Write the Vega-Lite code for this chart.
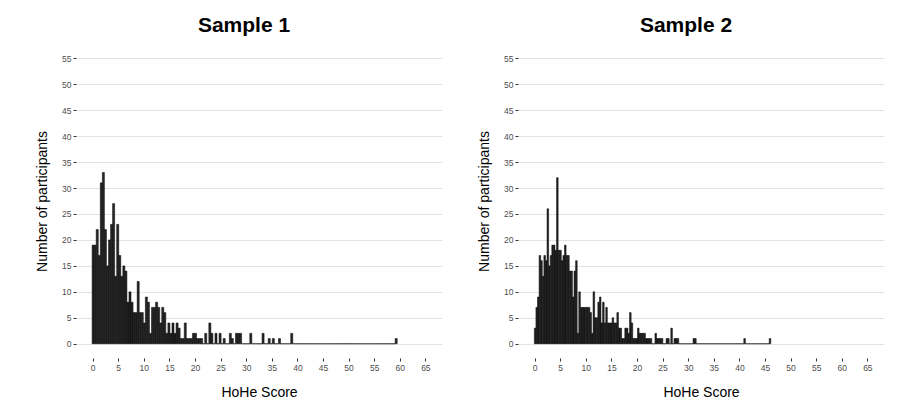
{
  "$schema": "https://vega.github.io/schema/vega-lite/v6.json",
  "padding": {"left": 35, "top": 15, "right": 5, "bottom": 5},
  "spacing": 35,
  "config": {
    "font": "Liberation Sans",
    "view": {"stroke": null},
    "axis": {"domain": false, "labelFontSize": 8.5, "labelColor": "#4d4d4d", "tickColor": "#333333", "tickSize": 3, "titleFontSize": 14, "titleFontWeight": "normal", "titleColor": "#000000", "gridColor": "#e3e3e3", "labelPadding": 2},
    "axisX": {"grid": false, "titlePadding": 14},
    "axisY": {"titlePadding": 12},
    "title": {"fontSize": 21, "fontWeight": "bold", "anchor": "middle", "frame": "group", "dx": -15, "offset": 8, "color": "#000000"},
    "bar": {"binSpacing": 0}
  },
  "hconcat": [
    {
      "title": "Sample 1",
      "width": 366,
      "height": 314,
      "data": {"values": [
        {"start": -0.2, "count": 19}, {"start": 0.2, "count": 19}, {"start": 0.6, "count": 22}, {"start": 1.0, "count": 17},
        {"start": 1.4, "count": 31}, {"start": 1.8, "count": 33}, {"start": 2.2, "count": 22}, {"start": 2.6, "count": 15},
        {"start": 3.0, "count": 20}, {"start": 3.4, "count": 23}, {"start": 3.8, "count": 27}, {"start": 4.2, "count": 13},
        {"start": 4.6, "count": 23}, {"start": 5.0, "count": 17}, {"start": 5.4, "count": 13}, {"start": 5.8, "count": 15},
        {"start": 6.2, "count": 14}, {"start": 6.6, "count": 8}, {"start": 7.0, "count": 10}, {"start": 7.4, "count": 8},
        {"start": 7.8, "count": 6}, {"start": 8.2, "count": 6}, {"start": 8.6, "count": 12}, {"start": 9.0, "count": 6},
        {"start": 9.4, "count": 6}, {"start": 9.8, "count": 4}, {"start": 10.2, "count": 9}, {"start": 10.6, "count": 8},
        {"start": 11.0, "count": 2}, {"start": 11.4, "count": 7}, {"start": 11.8, "count": 7}, {"start": 12.2, "count": 8},
        {"start": 12.6, "count": 7}, {"start": 13.0, "count": 4}, {"start": 13.4, "count": 7}, {"start": 13.8, "count": 6},
        {"start": 14.2, "count": 2}, {"start": 14.6, "count": 4}, {"start": 15.0, "count": 2}, {"start": 15.4, "count": 4},
        {"start": 15.8, "count": 2}, {"start": 16.2, "count": 4}, {"start": 16.6, "count": 3}, {"start": 17.0, "count": 1},
        {"start": 17.4, "count": 1}, {"start": 17.8, "count": 4}, {"start": 18.2, "count": 1}, {"start": 18.6, "count": 1},
        {"start": 19.0, "count": 1}, {"start": 19.4, "count": 2}, {"start": 19.8, "count": 2}, {"start": 20.2, "count": 1},
        {"start": 20.6, "count": 1}, {"start": 21.0, "count": 1}, {"start": 21.4, "count": 0}, {"start": 21.8, "count": 2},
        {"start": 22.2, "count": 0}, {"start": 22.6, "count": 4}, {"start": 23.0, "count": 2}, {"start": 23.4, "count": 0},
        {"start": 23.8, "count": 2}, {"start": 24.2, "count": 0}, {"start": 24.6, "count": 2}, {"start": 25.0, "count": 0},
        {"start": 25.4, "count": 1}, {"start": 25.8, "count": 0}, {"start": 26.2, "count": 0}, {"start": 26.6, "count": 2},
        {"start": 27.0, "count": 1}, {"start": 27.4, "count": 0}, {"start": 27.8, "count": 2}, {"start": 28.2, "count": 2},
        {"start": 28.6, "count": 2}, {"start": 29.0, "count": 0}, {"start": 29.4, "count": 0}, {"start": 29.8, "count": 0},
        {"start": 30.2, "count": 0}, {"start": 30.6, "count": 2}, {"start": 31.0, "count": 0}, {"start": 31.4, "count": 0},
        {"start": 31.8, "count": 0}, {"start": 32.2, "count": 0}, {"start": 32.6, "count": 0}, {"start": 33.0, "count": 2},
        {"start": 33.4, "count": 0}, {"start": 33.8, "count": 0}, {"start": 34.2, "count": 1}, {"start": 34.6, "count": 0},
        {"start": 35.0, "count": 1}, {"start": 35.4, "count": 0}, {"start": 35.8, "count": 0}, {"start": 36.2, "count": 1},
        {"start": 36.6, "count": 0}, {"start": 37.0, "count": 0}, {"start": 37.4, "count": 0}, {"start": 37.8, "count": 0},
        {"start": 38.2, "count": 0}, {"start": 38.6, "count": 2}, {"start": 39.0, "count": 0}, {"start": 39.4, "count": 0},
        {"start": 39.8, "count": 0}, {"start": 40.2, "count": 0}, {"start": 40.6, "count": 0}, {"start": 41.0, "count": 0},
        {"start": 41.4, "count": 0}, {"start": 41.8, "count": 0}, {"start": 42.2, "count": 0}, {"start": 42.6, "count": 0},
        {"start": 43.0, "count": 0}, {"start": 43.4, "count": 0}, {"start": 43.8, "count": 0}, {"start": 44.2, "count": 0},
        {"start": 44.6, "count": 0}, {"start": 45.0, "count": 0}, {"start": 45.4, "count": 0}, {"start": 45.8, "count": 0},
        {"start": 46.2, "count": 0}, {"start": 46.6, "count": 0}, {"start": 47.0, "count": 0}, {"start": 47.4, "count": 0},
        {"start": 47.8, "count": 0}, {"start": 48.2, "count": 0}, {"start": 48.6, "count": 0}, {"start": 49.0, "count": 0},
        {"start": 49.4, "count": 0}, {"start": 49.8, "count": 0}, {"start": 50.2, "count": 0}, {"start": 50.6, "count": 0},
        {"start": 51.0, "count": 0}, {"start": 51.4, "count": 0}, {"start": 51.8, "count": 0}, {"start": 52.2, "count": 0},
        {"start": 52.6, "count": 0}, {"start": 53.0, "count": 0}, {"start": 53.4, "count": 0}, {"start": 53.8, "count": 0},
        {"start": 54.2, "count": 0}, {"start": 54.6, "count": 0}, {"start": 55.0, "count": 0}, {"start": 55.4, "count": 0},
        {"start": 55.8, "count": 0}, {"start": 56.2, "count": 0}, {"start": 56.6, "count": 0}, {"start": 57.0, "count": 0},
        {"start": 57.4, "count": 0}, {"start": 57.8, "count": 0}, {"start": 58.2, "count": 0}, {"start": 58.6, "count": 0},
        {"start": 59.0, "count": 1}
      ]},
      "mark": {"type": "bar", "fill": "#262626", "stroke": "#000000", "strokeWidth": 0.5},
      "encoding": {
        "x": {"field": "start", "type": "quantitative", "bin": {"binned": true, "step": 0.4},
              "scale": {"domain": [-3.25, 68.25], "nice": false, "zero": false},
              "axis": {"values": [0, 5, 10, 15, 20, 25, 30, 35, 40, 45, 50, 55, 60, 65], "format": "d", "title": "HoHe Score"}},
        "y": {"field": "count", "type": "quantitative",
              "scale": {"domain": [-2.75, 57.75], "nice": false, "zero": false},
              "axis": {"values": [0, 5, 10, 15, 20, 25, 30, 35, 40, 45, 50, 55], "title": "Number of participants"}}
      }
    },
    {
      "title": "Sample 2",
      "width": 366,
      "height": 314,
      "data": {"values": [
        {"start": -0.155, "count": 3}, {"start": 0.155, "count": 7}, {"start": 0.465, "count": 9}, {"start": 0.775, "count": 17},
        {"start": 1.085, "count": 16}, {"start": 1.395, "count": 13}, {"start": 1.705, "count": 17}, {"start": 2.015, "count": 16},
        {"start": 2.325, "count": 26}, {"start": 2.635, "count": 15}, {"start": 2.945, "count": 17}, {"start": 3.255, "count": 19},
        {"start": 3.565, "count": 19}, {"start": 3.875, "count": 18}, {"start": 4.185, "count": 32}, {"start": 4.495, "count": 18},
        {"start": 4.805, "count": 18}, {"start": 5.115, "count": 16}, {"start": 5.425, "count": 17}, {"start": 5.735, "count": 19},
        {"start": 6.045, "count": 17}, {"start": 6.355, "count": 17}, {"start": 6.665, "count": 14}, {"start": 6.975, "count": 14},
        {"start": 7.285, "count": 9}, {"start": 7.595, "count": 14}, {"start": 7.905, "count": 16}, {"start": 8.215, "count": 2},
        {"start": 8.525, "count": 10}, {"start": 8.835, "count": 7}, {"start": 9.145, "count": 7}, {"start": 9.455, "count": 7},
        {"start": 9.765, "count": 7}, {"start": 10.075, "count": 7}, {"start": 10.385, "count": 7}, {"start": 10.695, "count": 6},
        {"start": 11.005, "count": 2}, {"start": 11.315, "count": 10}, {"start": 11.625, "count": 5}, {"start": 11.935, "count": 5},
        {"start": 12.245, "count": 8}, {"start": 12.555, "count": 9}, {"start": 12.865, "count": 4}, {"start": 13.175, "count": 8},
        {"start": 13.485, "count": 4}, {"start": 13.795, "count": 7}, {"start": 14.105, "count": 4}, {"start": 14.415, "count": 4},
        {"start": 14.725, "count": 4}, {"start": 15.035, "count": 5}, {"start": 15.345, "count": 4}, {"start": 15.655, "count": 4},
        {"start": 15.965, "count": 6}, {"start": 16.275, "count": 3}, {"start": 16.585, "count": 3}, {"start": 16.895, "count": 1},
        {"start": 17.205, "count": 1}, {"start": 17.515, "count": 3}, {"start": 17.825, "count": 3}, {"start": 18.135, "count": 2},
        {"start": 18.445, "count": 6}, {"start": 18.755, "count": 4}, {"start": 19.065, "count": 1}, {"start": 19.375, "count": 1},
        {"start": 19.685, "count": 1}, {"start": 19.995, "count": 3}, {"start": 20.305, "count": 2}, {"start": 20.615, "count": 2},
        {"start": 20.925, "count": 2}, {"start": 21.235, "count": 2}, {"start": 21.545, "count": 1}, {"start": 21.855, "count": 1},
        {"start": 22.165, "count": 1}, {"start": 22.475, "count": 1}, {"start": 22.785, "count": 0}, {"start": 23.095, "count": 0},
        {"start": 23.405, "count": 2}, {"start": 23.715, "count": 1}, {"start": 24.025, "count": 1}, {"start": 24.335, "count": 1},
        {"start": 24.645, "count": 1}, {"start": 24.955, "count": 0}, {"start": 25.265, "count": 0}, {"start": 25.575, "count": 1},
        {"start": 25.885, "count": 1}, {"start": 26.195, "count": 0}, {"start": 26.505, "count": 3}, {"start": 26.815, "count": 0},
        {"start": 27.125, "count": 1}, {"start": 27.435, "count": 1}, {"start": 27.745, "count": 1}, {"start": 28.055, "count": 0},
        {"start": 28.365, "count": 0}, {"start": 28.675, "count": 0}, {"start": 28.985, "count": 0}, {"start": 29.295, "count": 0},
        {"start": 29.605, "count": 0}, {"start": 29.915, "count": 0}, {"start": 30.225, "count": 0}, {"start": 30.535, "count": 0},
        {"start": 30.845, "count": 1}, {"start": 31.155, "count": 1}, {"start": 31.465, "count": 0}, {"start": 31.775, "count": 0},
        {"start": 32.085, "count": 0}, {"start": 32.395, "count": 0}, {"start": 32.705, "count": 0}, {"start": 33.015, "count": 0},
        {"start": 33.325, "count": 0}, {"start": 33.635, "count": 0}, {"start": 33.945, "count": 0}, {"start": 34.255, "count": 0},
        {"start": 34.565, "count": 0}, {"start": 34.875, "count": 0}, {"start": 35.185, "count": 0}, {"start": 35.495, "count": 0},
        {"start": 35.805, "count": 0}, {"start": 36.115, "count": 0}, {"start": 36.425, "count": 0}, {"start": 36.735, "count": 0},
        {"start": 37.045, "count": 0}, {"start": 37.355, "count": 0}, {"start": 37.665, "count": 0}, {"start": 37.975, "count": 0},
        {"start": 38.285, "count": 0}, {"start": 38.595, "count": 0}, {"start": 38.905, "count": 0}, {"start": 39.215, "count": 0},
        {"start": 39.525, "count": 0}, {"start": 39.835, "count": 0}, {"start": 40.145, "count": 0}, {"start": 40.455, "count": 0},
        {"start": 40.765, "count": 1}, {"start": 41.075, "count": 0}, {"start": 41.385, "count": 0}, {"start": 41.695, "count": 0},
        {"start": 42.005, "count": 0}, {"start": 42.315, "count": 0}, {"start": 42.625, "count": 0}, {"start": 42.935, "count": 0},
        {"start": 43.245, "count": 0}, {"start": 43.555, "count": 0}, {"start": 43.865, "count": 0}, {"start": 44.175, "count": 0},
        {"start": 44.485, "count": 0}, {"start": 44.795, "count": 0}, {"start": 45.105, "count": 0}, {"start": 45.415, "count": 0},
        {"start": 45.725, "count": 1}
      ]},
      "mark": {"type": "bar", "fill": "#262626", "stroke": "#000000", "strokeWidth": 0.5},
      "encoding": {
        "x": {"field": "start", "type": "quantitative", "bin": {"binned": true, "step": 0.31},
              "scale": {"domain": [-3.25, 68.25], "nice": false, "zero": false},
              "axis": {"values": [0, 5, 10, 15, 20, 25, 30, 35, 40, 45, 50, 55, 60, 65], "format": "d", "title": "HoHe Score"}},
        "y": {"field": "count", "type": "quantitative",
              "scale": {"domain": [-2.75, 57.75], "nice": false, "zero": false},
              "axis": {"values": [0, 5, 10, 15, 20, 25, 30, 35, 40, 45, 50, 55], "title": "Number of participants"}}
      }
    }
  ]
}
